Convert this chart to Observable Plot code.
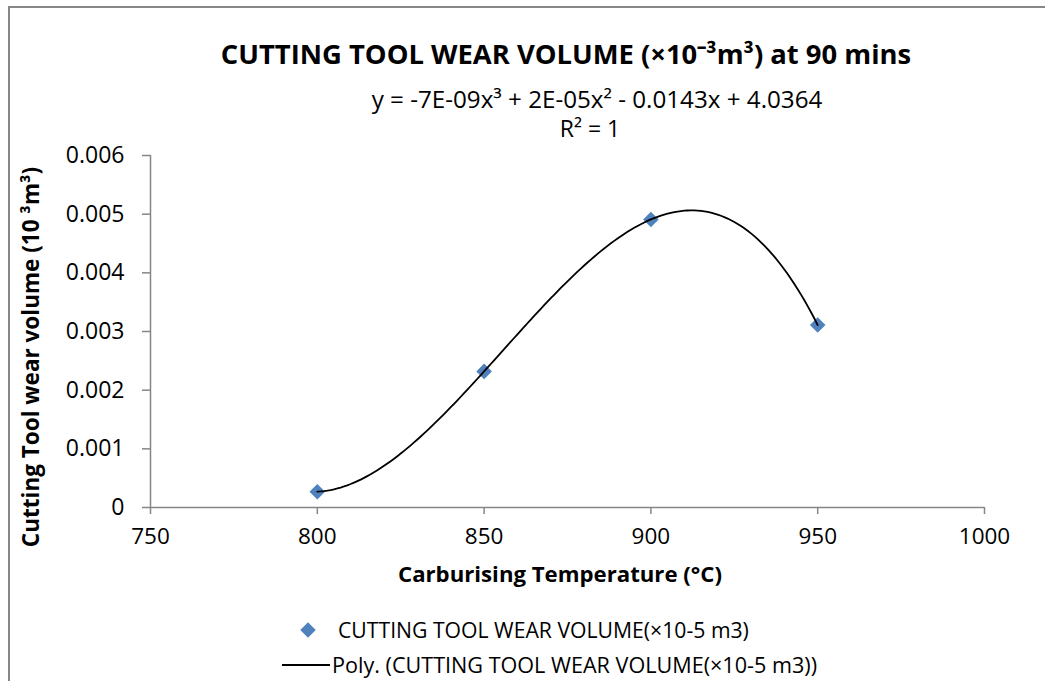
<!DOCTYPE html>
<html><head><meta charset="utf-8">
<script src="https://cdn.jsdelivr.net/npm/d3@7"></script>
<script src="https://cdn.jsdelivr.net/npm/@observablehq/plot@0.6"></script>
<style>
body{margin:0;background:#fff;}
#wrap{position:relative;width:1045px;height:681px;overflow:hidden;font-family:"Open Sans",sans-serif;color:#000;}
#frame{position:absolute;left:8px;top:6px;width:1100px;height:700px;border-left:2px solid #878787;border-top:2px solid #878787;}
.t{position:absolute;white-space:nowrap;line-height:1;}
#plot{position:absolute;left:0;top:0;}
</style></head>
<body><div id="wrap"><div id="frame"></div><div id="plot"></div></div>
<script>
// ---- data ----
const temps = [800, 850, 900, 950];
const wear = [0.00027, 0.00232, 0.00491, 0.00311];
const xTicks = [750, 800, 850, 900, 950, 1000];
const yTicks = [0, 0.001, 0.002, 0.003, 0.004, 0.005, 0.006];
const titleText = "CUTTING TOOL WEAR VOLUME (×10⁻³m³) at 90 mins";
const eqText = "y = -7E-09x³ + 2E-05x² - 0.0143x + 4.0364";
const r2Text = "R² = 1";
const xLabel = "Carburising Temperature (°C)";
const yLabel = "Cutting Tool wear volume (10 ³m³)";
const seriesName = "CUTTING TOOL WEAR VOLUME(×10-5 m3)";
const trendName = "Poly. (CUTTING TOOL WEAR VOLUME(×10-5 m3))";

const points = temps.map((t, i) => ({t, w: wear[i]}));
// order-3 polynomial trendline through the 4 data points (exact fit, R² = 1)
function trend(x) {
  let s = 0;
  for (let i = 0; i < temps.length; i++) {
    let l = 1;
    for (let j = 0; j < temps.length; j++) if (j !== i) l *= (x - temps[j]) / (temps[i] - temps[j]);
    s += wear[i] * l;
  }
  return s;
}
const trendPts = d3.range(temps[0], temps[temps.length - 1] + 0.001, 1).map(x => ({t: x, w: trend(x)}));

const gray = "#868686";
const FONT = '"Open Sans", sans-serif';

const chart = Plot.plot({
  width: 1045, height: 600,
  marginLeft: 150, marginRight: 61, marginTop: 155, marginBottom: 93,
  style: {fontFamily: FONT, fontSize: "22px", background: "transparent", overflow: "visible"},
  x: {domain: [750, 1000], axis: null},
  y: {domain: [0, 0.006], axis: null},
  marks: [
    Plot.ruleY([0], {stroke: gray, strokeWidth: 1.5}),
    Plot.ruleX([750], {stroke: gray, strokeWidth: 1.5}),
    Plot.axisX(xTicks, {tickSize: 7, tickPadding: 14, stroke: gray, strokeWidth: 1.5, fill: "black", fontSize: 22.5, tickFormat: d => String(d), label: null}),
    Plot.axisY(yTicks, {tickSize: 8, tickPadding: 18, stroke: gray, strokeWidth: 1.5, fill: "black", fontSize: 23, tickFormat: d => d === 0 ? "0" : d.toFixed(3), label: null}),
    Plot.dot(points, {x: "t", y: "w", symbol: "diamond2", r: 7, fill: "#4F81BD", stroke: "none"}),
    Plot.line(trendPts, {x: "t", y: "w", stroke: "black", strokeWidth: 1.8})
  ]
});
document.getElementById("plot").appendChild(chart);

const wrap = document.getElementById("wrap");
function addText(txt, css) {
  const d = document.createElement("div");
  d.className = "t"; d.textContent = txt;
  Object.assign(d.style, css);
  wrap.appendChild(d);
  return d;
}
addText(titleText, {left: "166px", width: "800px", textAlign: "center", top: "40px", fontSize: "27.4px", fontWeight: "bold"});
addText(eqText, {left: "347px", width: "500px", textAlign: "center", top: "87px", fontSize: "24.2px"});
addText(r2Text, {left: "490px", width: "200px", textAlign: "center", top: "117px", fontSize: "23px"});
addText(xLabel, {left: "360px", width: "400px", textAlign: "center", top: "563px", fontSize: "22.2px", fontWeight: "bold"});
addText(yLabel, {left: "31px", top: "357px", width: "0", fontSize: "22.5px", fontWeight: "bold", transform: "translate(-50%,-50%) rotate(-90deg)", display: "flex", justifyContent: "center"});
// legend
const leg = document.createElementNS("http://www.w3.org/2000/svg", "svg");
leg.setAttribute("width", 1045); leg.setAttribute("height", 81);
leg.style.position = "absolute"; leg.style.left = "0"; leg.style.top = "600px";
const sym = d3.symbol(d3.symbolDiamond2, Math.PI * 7 * 7)();
d3.select(leg).append("path").attr("d", sym).attr("transform", "translate(308,30)").attr("fill", "#4F81BD");
d3.select(leg).append("line").attr("x1", 282).attr("x2", 330).attr("y1", 65).attr("y2", 65).attr("stroke", "black").attr("stroke-width", 1.8);
wrap.appendChild(leg);
addText(seriesName, {left: "338px", top: "619px", fontSize: "21.2px"});
addText(trendName, {left: "332px", top: "654px", fontSize: "21.6px"});
</script>
</body></html>
